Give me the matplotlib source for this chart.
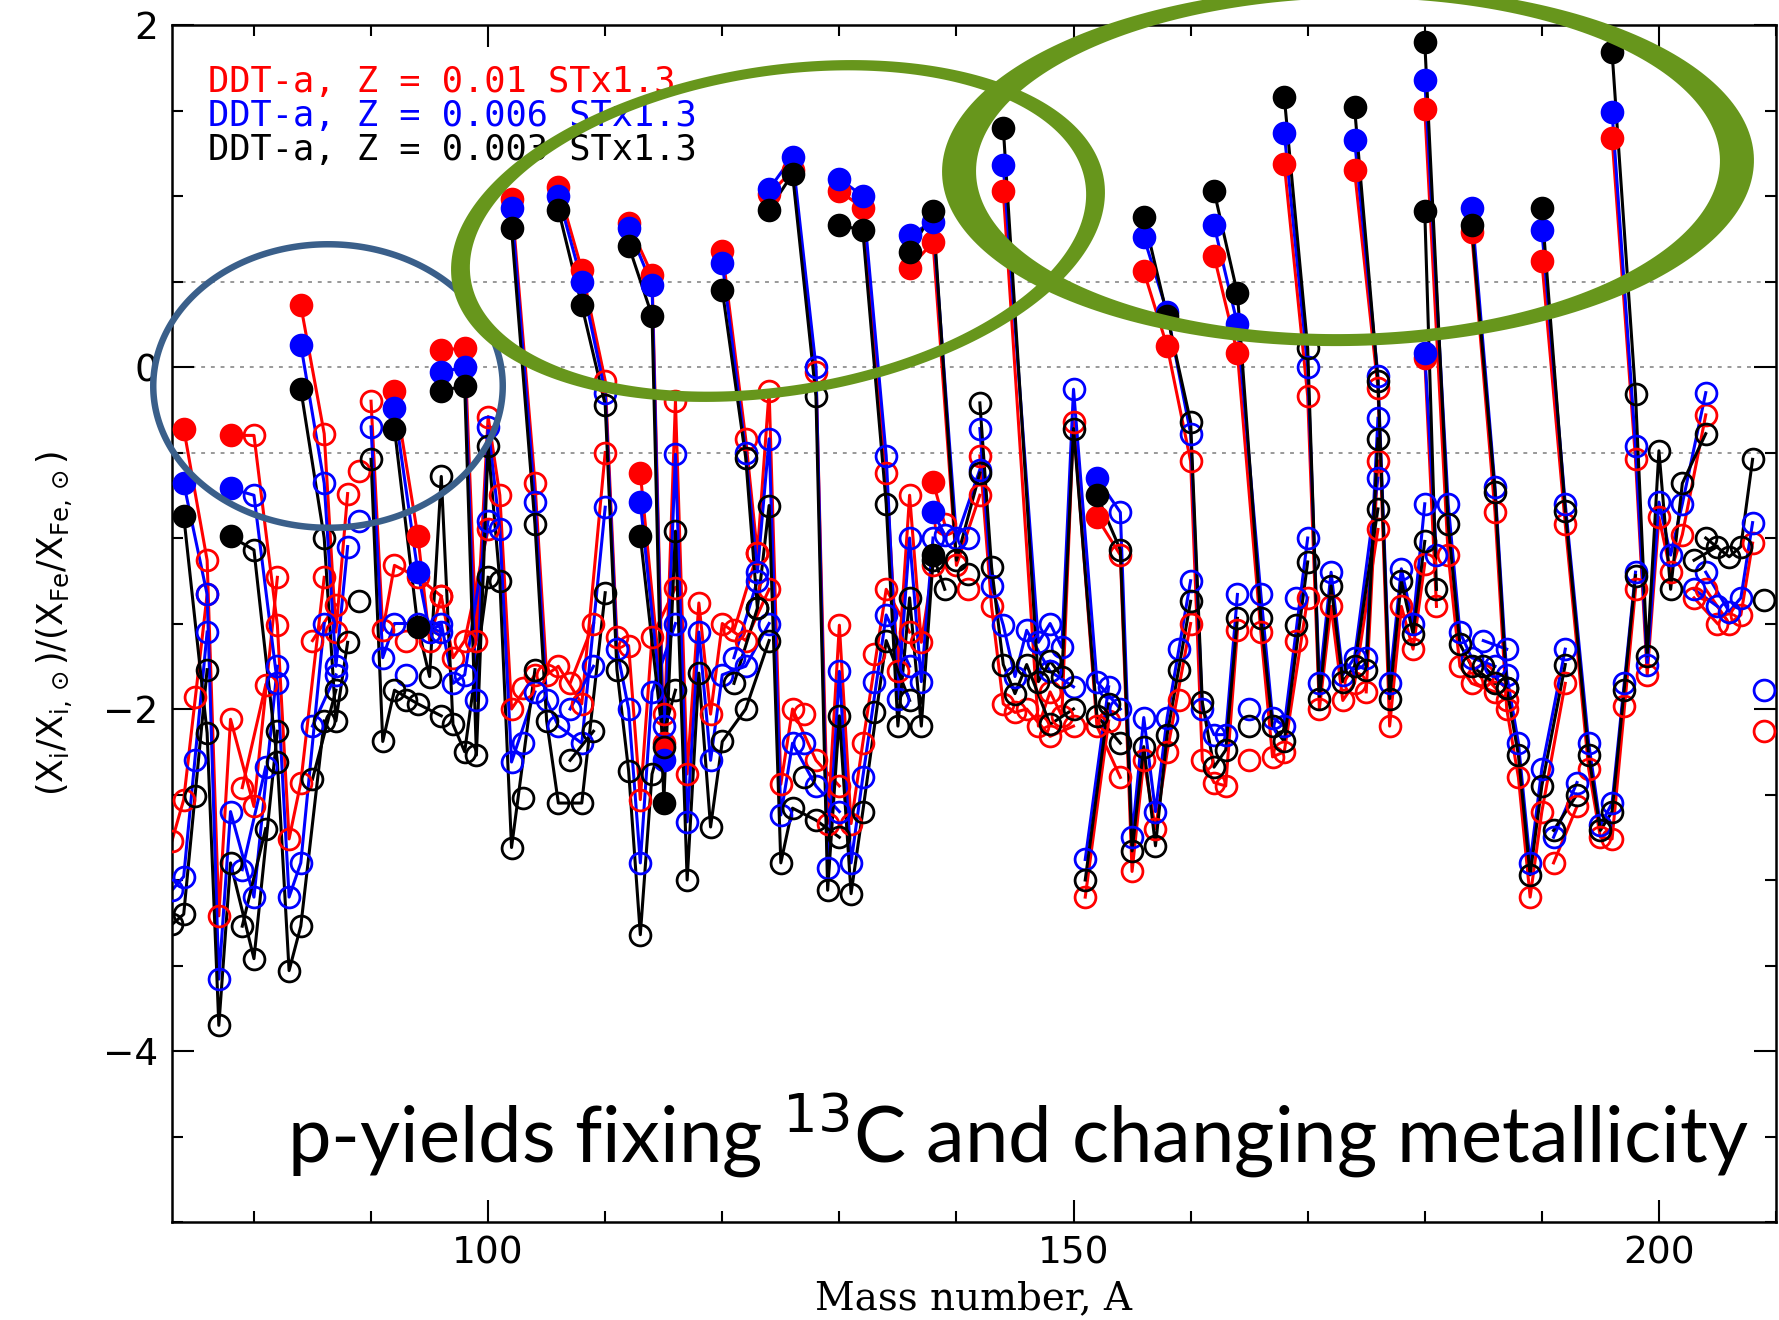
import numpy as np
import matplotlib.pyplot as plt
from matplotlib.patches import PathPatch
from matplotlib.path import Path
from matplotlib.transforms import Affine2D
from matplotlib.ticker import MultipleLocator

# element chains (isotopes of one element are joined by a line)
elements = ["Ge", "As", "Se", "Br", "Kr", "Rb", "Sr", "Y", "Zr", "Nb", "Mo", "Ru", "Rh",
            "Pd", "Ag", "Cd", "In", "Sn", "Sb", "Te", "I", "Xe", "Cs", "Ba", "La", "Ce",
            "Pr", "Nd", "Sm", "Eu", "Gd", "Tb", "Dy", "Ho", "Er", "Tm", "Yb", "Lu", "Hf",
            "Ta", "W", "Re", "Os", "Ir", "Pt", "Au", "Hg", "Tl", "Pb", "Bi"]

masses = [
    [73, 74, 76], [75], [74, 76, 77, 78, 80, 82], [79, 81], [78, 80, 82, 83, 84, 86],
    [85, 87], [84, 86, 87, 88], [89], [90, 91, 92, 94, 96], [93],
    [92, 94, 95, 96, 97, 98, 100], [96, 98, 99, 100, 101, 102, 104], [103],
    [102, 104, 105, 106, 108, 110], [107, 109], [106, 108, 110, 111, 112, 113, 114, 116],
    [113, 115], [112, 114, 115, 116, 117, 118, 119, 120, 122, 124], [121, 123],
    [120, 122, 123, 124, 125, 126, 128, 130], [127],
    [124, 126, 128, 129, 130, 131, 132, 134, 136], [133],
    [130, 132, 134, 135, 136, 137, 138], [138, 139], [136, 138, 140, 142], [141],
    [142, 143, 144, 145, 146, 148, 150], [144, 147, 148, 149, 150, 152, 154], [151, 153],
    [152, 154, 155, 156, 157, 158, 160], [159], [156, 158, 160, 161, 162, 163, 164], [165],
    [162, 164, 166, 167, 168, 170], [169], [168, 170, 171, 172, 173, 174, 176], [175, 176],
    [174, 176, 177, 178, 179, 180], [180, 181], [180, 182, 183, 184, 186], [185, 187],
    [184, 186, 187, 188, 189, 190, 192], [191, 193], [190, 192, 194, 195, 196, 198], [197],
    [196, 198, 199, 200, 201, 202, 204], [203, 205], [204, 206, 207, 208], [209]]

# DDT-a, Z = 0.01
z010 = [
    [-2.77, -2.53, -1.33], [-1.93], [-0.36, -1.13, -3.21, -2.06, -2.57, -1.23], [-2.46, -1.86],
    [-0.40, -0.40, -1.51, -2.76, -2.43, -1.23], [-1.60, -1.39], [0.36, -0.39, -1.55, -0.74],
    [-0.61], [-0.20, -1.54, -1.16, -1.23, -1.34], [-1.60],
    [-0.14, -0.99, -1.60, -1.34, -1.70, -1.60, -0.95], [0.10, 0.11, -1.60, -0.29, -0.75, -2.00, -1.80],
    [-1.88], [0.98, -0.68, -1.80, -1.75, -1.97, -0.50], [-1.85, -1.50],
    [1.05, 0.57, -0.08, -1.58, -1.63, -2.53, -1.58, -1.29], [-0.62, -2.03],
    [0.84, 0.54, -2.20, -0.20, -2.38, -1.38, -2.03, -1.50, -1.60, -1.30], [-1.54, -1.09],
    [0.68, -0.42, -1.09, -0.14, -2.44, -2.00, -2.30, -2.45], [-2.03],
    [1.01, 1.15, -0.03, -2.67, -1.51, -2.67, -2.20, -1.30, -1.55], [-1.68],
    [1.03, 0.93, -0.62, -1.78, -0.75, -1.61, -1.16], [-0.67, -0.92], [0.58, 0.73, -1.16, -0.75],
    [-1.30], [-0.52, -1.40, -1.97, -2.02, -2.00, -2.16, -2.10],
    [1.03, -2.10, -1.90, -2.04, -0.32, -2.10, -2.40], [-3.10, -2.07],
    [-0.88, -1.10, -2.95, -2.30, -2.70, -2.25, -1.50], [-1.95],
    [0.56, 0.12, -0.55, -2.30, -2.43, -2.45, -1.54], [-2.30],
    [0.65, 0.08, -1.55, -2.28, -2.25, -1.35], [-1.60],
    [1.19, -0.17, -2.00, -1.40, -1.95, -1.85, -0.95], [-1.90, -0.55],
    [1.15, -0.12, -2.10, -1.40, -1.65, -1.15], [0.05, -1.40], [1.51, -1.10, -1.75, -1.85, -1.90],
    [-1.80, -1.95], [0.79, -0.85, -2.00, -2.40, -3.10, -2.60, -1.85], [-2.90, -2.57],
    [0.62, -0.92, -2.35, -2.75, -2.76, -1.30], [-1.98],
    [1.34, -0.54, -1.80, -0.88, -1.20, -0.98, -0.28], [-1.35, -1.50], [-1.30, -1.50, -1.45, -1.03],
    [-2.13]]

# DDT-a, Z = 0.006
z006 = [
    [-3.06, -2.98, -1.55], [-2.30], [-0.68, -1.33, -3.58, -2.60, -3.10, -1.75], [-2.94, -2.34],
    [-0.71, -0.75, -1.85, -3.10, -2.90, -1.50], [-2.10, -1.80], [0.13, -0.68, -1.75, -1.05],
    [-0.90], [-0.35, -1.70, -1.50, -1.50, -1.55], [-1.80],
    [-0.24, -1.20, -1.55, -1.50, -1.85, -1.80, -0.90], [-0.03, 0.00, -1.95, -0.35, -0.95, -2.31, -1.90],
    [-2.20], [0.93, -0.79, -1.95, -2.10, -2.20, -0.82], [-2.00, -1.75],
    [1.00, 0.50, -0.15, -1.65, -2.00, -2.90, -1.90, -1.50], [-0.79, -2.10],
    [0.81, 0.48, -2.30, -0.51, -2.66, -1.55, -2.30, -1.80, -1.75, -1.50], [-1.70, -1.25],
    [0.61, -0.50, -1.20, -0.42, -2.62, -2.20, -2.45, -2.60], [-2.20],
    [1.04, 1.23, 0.00, -2.93, -1.78, -2.90, -2.40, -1.45, -1.75], [-1.84],
    [1.10, 1.00, -0.52, -1.94, -1.00, -1.84, -1.00], [-0.85, -0.98], [0.77, 0.85, -1.00, -0.60],
    [-1.00], [-0.36, -1.28, -1.51, -1.81, -1.54, -1.78, -1.87],
    [1.18, -1.61, -1.50, -1.64, -0.13, -1.84, -2.00], [-2.88, -1.87],
    [-0.65, -0.85, -2.75, -2.05, -2.60, -2.05, -1.25], [-1.65],
    [0.76, 0.32, -0.39, -2.00, -2.15, -2.15, -1.33], [-2.00],
    [0.83, 0.25, -1.33, -2.05, -2.10, -1.00], [-1.35],
    [1.37, 0.00, -1.85, -1.20, -1.80, -1.70, -0.65], [-1.70, -0.30],
    [1.33, -0.05, -1.85, -1.18, -1.50, -0.80], [0.08, -1.10], [1.68, -0.80, -1.55, -1.70, -1.75],
    [-1.60, -1.65], [0.93, -0.70, -1.80, -2.20, -2.90, -2.35, -1.65], [-2.75, -2.43],
    [0.80, -0.80, -2.20, -2.68, -2.55, -1.20], [-1.85],
    [1.49, -0.46, -1.74, -0.79, -1.10, -0.80, -0.15], [-1.30, -1.40], [-1.20, -1.43, -1.35, -0.91],
    [-1.89]]

# DDT-a, Z = 0.003
z003 = [
    [-3.26, -3.20, -1.77], [-2.51], [-0.87, -2.14, -3.85, -2.90, -3.46, -2.13], [-3.27, -2.70],
    [-0.99, -1.07, -2.31, -3.53, -3.27, -2.07], [-2.41, -1.89], [-0.13, -1.00, -2.07, -1.61],
    [-1.37], [-0.54, -2.19, -1.89, -1.97, -2.04], [-1.95],
    [-0.36, -1.52, -1.81, -0.64, -2.09, -2.25, -1.23], [-0.14, -0.11, -2.27, -0.46, -1.25, -2.81, -1.77],
    [-2.52], [0.81, -0.92, -2.07, -2.55, -2.55, -1.32], [-2.30, -2.13],
    [0.92, 0.36, -0.22, -1.77, -2.36, -3.32, -2.38, -1.89], [-0.99, -2.22],
    [0.71, 0.30, -2.55, -0.96, -3.00, -1.79, -2.69, -2.19, -2.00, -1.60], [-1.85, -1.41],
    [0.45, -0.53, -1.41, -0.81, -2.90, -2.58, -2.65, -2.75], [-2.40],
    [0.92, 1.13, -0.17, -3.06, -2.04, -3.08, -2.60, -1.60, -1.95], [-2.02],
    [0.83, 0.80, -0.80, -2.10, -1.35, -2.10, -1.13], [-1.10, -1.30], [0.67, 0.91, -1.13, -0.62],
    [-1.21], [-0.21, -1.17, -1.74, -1.91, -1.74, -2.09, -2.00],
    [1.40, -1.84, -1.72, -1.81, -0.36, -2.04, -2.20], [-3.00, -1.97],
    [-0.75, -1.07, -2.83, -2.22, -2.80, -2.15, -1.37], [-1.77],
    [0.88, 0.30, -0.32, -1.96, -2.34, -2.24, -1.47], [-2.10],
    [1.03, 0.43, -1.47, -2.10, -2.19, -1.14], [-1.51],
    [1.58, 0.11, -1.94, -1.28, -1.84, -1.75, -0.83], [-1.77, -0.42],
    [1.52, -0.08, -1.94, -1.25, -1.56, -1.02], [0.91, -1.30], [1.90, -0.92, -1.62, -1.75, -1.85],
    [-1.75, -1.88], [0.83, -0.73, -1.88, -2.27, -2.97, -2.45, -1.74], [-2.71, -2.50],
    [0.93, -0.84, -2.27, -2.71, -2.60, -1.22], [-1.89],
    [1.84, -0.16, -1.69, -0.49, -1.30, -0.68, -0.39], [-1.13, -1.05], [-1.00, -1.11, -1.05, -0.54],
    [-1.36]]

# p-nuclei, drawn as filled circles
p_nuclei = ["Se74", "Kr78", "Sr84", "Mo92", "Mo94", "Ru96", "Ru98", "Pd102", "Cd106", "Cd108",
            "In113", "Sn112", "Sn114", "Sn115", "Te120", "Xe124", "Xe126", "Ba130", "Ba132",
            "La138", "Ce136", "Ce138", "Sm144", "Gd152", "Dy156", "Dy158", "Er162", "Er164",
            "Yb168", "Hf174", "Ta180", "W180", "Os184", "Pt190", "Hg196"]

labels = ["DDT-a, Z = 0.01 STx1.3", "DDT-a, Z = 0.006 STx1.3", "DDT-a, Z = 0.003 STx1.3"]
colors = ["#ff0000", "#0000ff", "#000000"]

W, H = 1779, 1320
fig = plt.figure(figsize=(W / 100, H / 100), dpi=100)
ax = fig.add_axes([172 / W, 1 - 1222 / H, (1776 - 172) / W, (1222 - 25) / H])

for y in [0.5, 0.0, -0.5]:
    ax.axhline(y, color="#999999", ls=(0, (2, 3)), lw=1.4, zorder=1)

for vals, col in zip([z010, z006, z003], colors):
    for el, A, v in zip(elements, masses, vals):
        A = np.array(A)
        v = np.array(v)
        filled = np.array([f"{el}{a}" in p_nuclei for a in A])
        ax.plot(A, v, "-", color=col, lw=2.2, zorder=2)
        ax.plot(A[~filled], v[~filled], "o", ms=15, mfc="none", mec=col, mew=2.0, zorder=3)
        ax.plot(A[filled], v[filled], "o", ms=15, mfc=col, mec=col, mew=2.0, zorder=3)

ax.set_xlim(73, 210)
ax.set_ylim(-5, 2)
ax.xaxis.set_major_locator(MultipleLocator(50))
ax.xaxis.set_minor_locator(MultipleLocator(10))
ax.yaxis.set_major_locator(MultipleLocator(2))
ax.yaxis.set_minor_locator(MultipleLocator(0.5))
ax.tick_params(which="both", direction="in", top=True, right=True, width=1.5, labelsize=27, pad=10)
ax.tick_params(which="major", length=16)
ax.tick_params(which="minor", length=8)
for s in ax.spines.values():
    s.set_linewidth(1.8)
ax.set_xlabel("Mass number, A", fontsize=28, family="DejaVu Serif", labelpad=6)
ax.set_ylabel(r"$(\mathrm{X_i}/\mathrm{X_{i,\odot}})/(\mathrm{X_{Fe}}/\mathrm{X_{Fe,\odot}})$",
              fontsize=25, labelpad=20)

for i, (lab, col) in enumerate(zip(labels, colors)):
    fig.text(208 / W, 1 - (82 + 34 * i) / H, lab, color=col, fontsize=25.5,
             va="center", ha="left", family="DejaVu Sans Mono")

# annotation ellipses, drawn in pixel coordinates of the figure (y down)
pix = Affine2D().scale(1 / W, -1 / H).translate(0, 1) + fig.transFigure


def ring(cx, cy, w, h, tx, ty, ang):
    t = np.linspace(0, 2 * np.pi, 300)
    ox, oy = w / 2 * np.cos(t), h / 2 * np.sin(t)
    ix, iy = (w / 2 - tx) * np.cos(t[::-1]), (h / 2 - ty) * np.sin(t[::-1])
    c, s = np.cos(np.radians(ang)), np.sin(np.radians(ang))
    xs = np.concatenate([ox, ix])
    ys = np.concatenate([oy, iy])
    pts = np.column_stack([cx + c * xs + s * ys, cy - s * xs + c * ys])
    codes = ([Path.MOVETO] + [Path.LINETO] * 298 + [Path.CLOSEPOLY]) * 2
    return Path(pts, codes)


for cx, cy, w, h, tx, ty, ang, col in [
        (328, 386, 356, 290, 6.5, 6.5, 0, "#3a5f8a"),
        (778, 231, 660, 330, 19, 10, 9, "#67961c"),
        (1348, 166, 812, 360, 34, 12, 1, "#67961c")]:
    fig.add_artist(PathPatch(ring(cx, cy, w, h, tx, ty, ang), facecolor=col,
                             edgecolor="none", transform=pix, zorder=10))

fig.text(287 / W, 1 - 1163 / H, r"p-yields fixing $^{13}$C and changing metallicity",
         fontsize=56, family="Lato", ha="left", va="baseline", zorder=11)

plt.savefig("out.png", dpi=100)
